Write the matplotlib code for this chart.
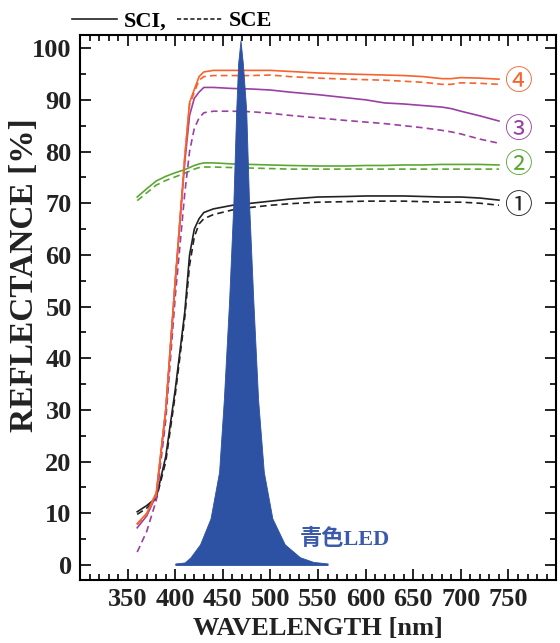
import matplotlib
matplotlib.use("Agg")
import matplotlib.pyplot as plt
from matplotlib.lines import Line2D
from matplotlib.ticker import MultipleLocator

# wavelength grid of the reflectance curves [nm]
wl = [360, 370, 380, 390, 400, 410, 415, 420, 425, 430, 440, 460, 480, 500,
      520, 550, 580, 600, 620, 640, 660, 680, 690, 700, 720, 740]

# sample 4 (orange)
sci_4 = [8.0, 10.0, 14.0, 30.0, 55.0, 79.0, 89.5, 92.0, 94.5, 95.4, 95.7, 95.7, 95.7, 95.7,
         95.5, 95.2, 95.0, 94.9, 94.8, 94.7, 94.5, 94.1, 94.1, 94.3, 94.2, 94.0]
sce_4 = [7.8, 9.8, 13.5, 30.0, 55.0, 79.0, 89.0, 91.5, 93.8, 94.5, 94.7, 94.7, 94.7, 94.8,
         94.5, 94.2, 94.0, 93.9, 93.8, 93.6, 93.4, 93.0, 93.0, 93.3, 93.2, 93.0]
# sample 3 (purple)
sci_3 = [7.2, 9.5, 13.5, 30.0, 55.0, 78.0, 87.0, 90.3, 91.5, 92.4, 92.4, 92.2, 92.1, 91.9,
         91.5, 91.0, 90.4, 90.0, 89.4, 89.2, 88.9, 88.6, 88.3, 87.8, 86.9, 85.9]
sce_3 = [2.5, 6.5, 12.5, 28.0, 52.0, 72.0, 80.0, 84.5, 86.5, 87.5, 87.8, 87.8, 87.7, 87.4,
         87.0, 86.5, 86.0, 85.7, 85.4, 85.0, 84.6, 84.1, 83.8, 83.4, 82.4, 81.6]
# sample 2 (green)
sci_2 = [71.2, 72.8, 74.3, 75.2, 75.9, 76.5, 76.9, 77.3, 77.6, 77.8, 77.8, 77.6, 77.5, 77.4,
         77.3, 77.2, 77.2, 77.3, 77.3, 77.4, 77.4, 77.5, 77.5, 77.5, 77.5, 77.4]
sce_2 = [70.5, 72.0, 73.5, 74.4, 75.1, 75.8, 76.2, 76.6, 76.9, 77.0, 77.0, 76.9, 76.8, 76.7,
         76.6, 76.6, 76.6, 76.6, 76.6, 76.6, 76.6, 76.6, 76.6, 76.6, 76.6, 76.6]
# sample 1 (black)
sci_1 = [10.3, 11.5, 13.0, 21.0, 34.0, 49.0, 60.0, 65.0, 67.0, 68.2, 68.9, 69.6, 70.0, 70.4,
         70.8, 71.2, 71.3, 71.4, 71.4, 71.4, 71.3, 71.2, 71.2, 71.2, 71.0, 70.6]
sce_1 = [9.8, 11.0, 12.8, 20.0, 33.0, 48.0, 58.0, 63.5, 66.0, 67.0, 67.8, 68.7, 69.2, 69.6,
         69.9, 70.2, 70.3, 70.4, 70.4, 70.4, 70.3, 70.2, 70.2, 70.2, 70.0, 69.6]

# blue LED emission spectrum (arbitrary units, peak ~101)
led_wl = [400, 410, 416, 426, 437, 446, 451, 456.5, 461, 464, 466, 468.5, 471, 474.5,
          477.5, 482, 487, 493, 502, 515, 531, 545, 560]
led_val = [0.3, 0.5, 1.5, 4.0, 9.0, 18.0, 32.0, 51.0, 70.0, 88.0, 97.0, 101.5, 97.0, 88.0,
           70.0, 51.0, 32.0, 18.0, 9.0, 4.0, 1.5, 0.6, 0.3]

samples = [("①", sci_1, sce_1, "#222222", 69.4),
           ("②", sci_2, sce_2, "#5aa832", 77.4),
           ("③", sci_3, sce_3, "#9a3fa3", 84.1),
           ("④", sci_4, sce_4, "#f7632c", 93.4)]

serif = "Liberation Serif"

fig = plt.figure(figsize=(5.6, 6.43), dpi=100)
ax = fig.add_axes([0.143, 0.098, 0.850, 0.848])

for tag, sci, sce, col, ylab in samples:
    ax.plot(wl, sci, color=col, lw=1.2, ls="-", zorder=2)
    ax.plot(wl, sce, color=col, lw=1.2, ls=(0, (4, 2.5)), zorder=2)
    ax.text(760, ylab, tag, color=col, fontsize=20, ha="center", va="center",
            family=["Noto Sans CJK JP", "DejaVu Sans"])

ax.fill_between(led_wl, 0, led_val, color="#2d52a3", lw=0.6, zorder=3)
ax.text(578, 5.0, "青色LED", color="#3a5bab", fontsize=16, fontweight="bold",
        ha="center", va="center", family=[serif, "Noto Sans CJK JP"])

ax.set_xlim(300, 800)
ax.set_ylim(-2.9, 102.6)
ax.set_xticks(range(350, 751, 50))
ax.xaxis.set_minor_locator(MultipleLocator(10))
ax.set_yticks(range(0, 101, 10))
ax.yaxis.set_minor_locator(MultipleLocator(5))
ax.tick_params(which="both", direction="in", top=True, right=True, width=1.2)
ax.tick_params(which="major", length=8, pad=6)
ax.tick_params(which="minor", length=4)
for lab in ax.get_xticklabels() + ax.get_yticklabels():
    lab.set_family(serif)
    lab.set_fontweight("bold")
    lab.set_fontsize(19)
    lab.set_color("#222222")
for sp in ax.spines.values():
    sp.set_linewidth(1.5)

ax.set_xlabel("WAVELENGTH [nm]", family=serif, fontweight="bold", fontsize=19,
              color="#222222", labelpad=4)
ax.set_ylabel("REFLECTANCE [%]", family=serif, fontweight="bold", fontsize=24,
              color="#222222")
ax.yaxis.set_label_coords(-0.085, 0.56)

handles = [Line2D([], [], color="#222222", lw=1.2, ls="-"),
           Line2D([], [], color="#222222", lw=1.2, ls=(0, (2.5, 1.5)))]
ax.legend(handles, ["SCI,", "SCE"], ncol=2, frameon=False, loc="lower left",
          bbox_to_anchor=(-0.035, 0.99), handlelength=2.0, handletextpad=0.3,
          columnspacing=0.5, borderaxespad=0,
          prop={"family": serif, "weight": "bold", "size": 16})

fig.savefig("out.png", dpi=100)
